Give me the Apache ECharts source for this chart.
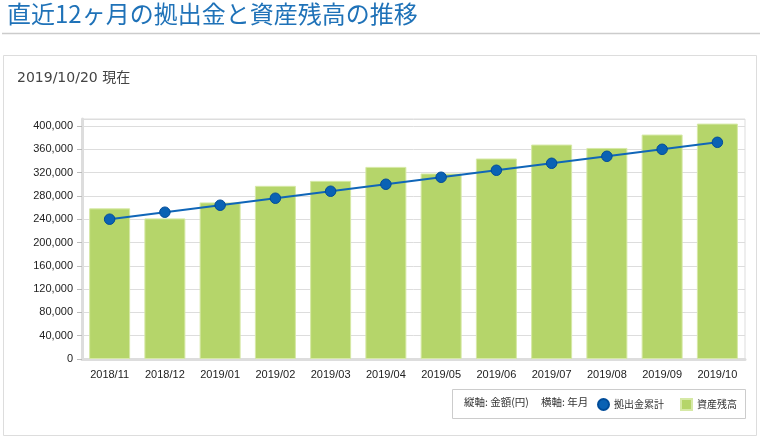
<!DOCTYPE html>
<html>
<head>
<meta charset="utf-8">
<script src="https://cdn.jsdelivr.net/npm/echarts@6/dist/echarts.min.js"></script>
<style>
html,body{margin:0;padding:0;background:#fff;}
#chart{width:764px;height:437px;}
</style>
</head>
<body>
<div id="chart"></div>
<script>
const categories = ['2018/11','2018/12','2019/01','2019/02','2019/03','2019/04','2019/05','2019/06','2019/07','2019/08','2019/09','2019/10'];
const assetBalance = [258600, 241400, 268800, 297300, 305800, 329800, 318500, 344200, 368100, 362300, 385300, 404100];
const cumulativeContribution = [240000, 252000, 264000, 276000, 288000, 300000, 312000, 324000, 336000, 348000, 360000, 372000];
const yTicks = {min: 0, max: 412000, interval: 40000};

const chart = echarts.init(document.getElementById('chart'));
const font = '"Liberation Sans", Arial, sans-serif';
const jp = '"Noto Sans CJK JP", sans-serif';
chart.setOption({
  animation: false,
  backgroundColor: '#fff',
  graphic: [
    {type:'text', left: 7, top: 2, style:{text:'直近12ヶ月の拠出金と資産残高の推移', fill:'#1f72b8', font:'24px ' + jp}},
    {type:'rect', shape:{x:2, y:33.5, width:758, height:0}, style:{stroke:'#cccccc', lineWidth:1.5}},
    {type:'rect', shape:{x:3.5, y:55.5, width:753, height:380}, style:{fill:'none', stroke:'#dddddd', lineWidth:1}},
    {type:'text', left: 17, top: 71, style:{text:'2019/10/20 現在', fill:'#444', font:'14px "DejaVu Sans", "Noto Sans CJK JP", sans-serif'}},
    {type:'rect', shape:{x:452.5, y:389.5, width:293, height:29}, style:{fill:'none', stroke:'#cccccc', lineWidth:1}},
    {type:'text', left: 464, top: 397, style:{text:'縦軸: 金額(円)', fill:'#333', font:'10.5px ' + jp}},
    {type:'text', left: 541, top: 397, style:{text:'横軸: 年月', fill:'#333', font:'10.5px ' + jp}}
  ],
  legend: {
    left: 597, top: 398,
    padding: 0,
    itemWidth: 11, itemHeight: 11, itemGap: 16,
    textStyle: {fontFamily: jp, fontSize: 10, color: '#333'},
    data: [{name:'拠出金累計', icon:'circle'}, {name:'資産残高', icon:'rect'}]
  },
  grid: {left: 82, right: 19, top: 119, bottom: 78, show: true, borderColor: '#dddddd', borderWidth: 1},
  xAxis: {
    type: 'category', data: categories,
    axisLine: {lineStyle: {color: '#dddddd', width: 3}},
    axisTick: {alignWithLabel: true, length: 6, lineStyle: {color: '#aaaaaa', type: 'dotted'}},
    axisLabel: {color: '#222', fontFamily: font, fontSize: 11, margin: 10}
  },
  yAxis: {
    type: 'value', min: yTicks.min, max: yTicks.max, interval: yTicks.interval,
    axisLine: {show: true, lineStyle: {color: '#dddddd', width: 3}},
    axisTick: {show: true, length: 5, lineStyle: {color: '#bbbbbb'}},
    axisLabel: {color: '#222', fontFamily: font, fontSize: 11, margin: 9, showMaxLabel: false,
      formatter: v => v.toLocaleString('en-US')},
    splitLine: {lineStyle: {color: '#dddddd', width: 1}}
  },
  series: [
    {
      name: '資産残高', type: 'bar', data: assetBalance, barWidth: 41,
      itemStyle: {color: '#b5d56a', borderColor: '#d6e9a6', borderWidth: 1}
    },
    {
      name: '拠出金累計', type: 'line', data: cumulativeContribution,
      symbol: 'circle', symbolSize: 10.5,
      lineStyle: {color: '#1066b8', width: 2},
      itemStyle: {color: '#0a62b4', borderColor: '#004c99', borderWidth: 1}
    }
  ]
});
</script>
</body>
</html>
